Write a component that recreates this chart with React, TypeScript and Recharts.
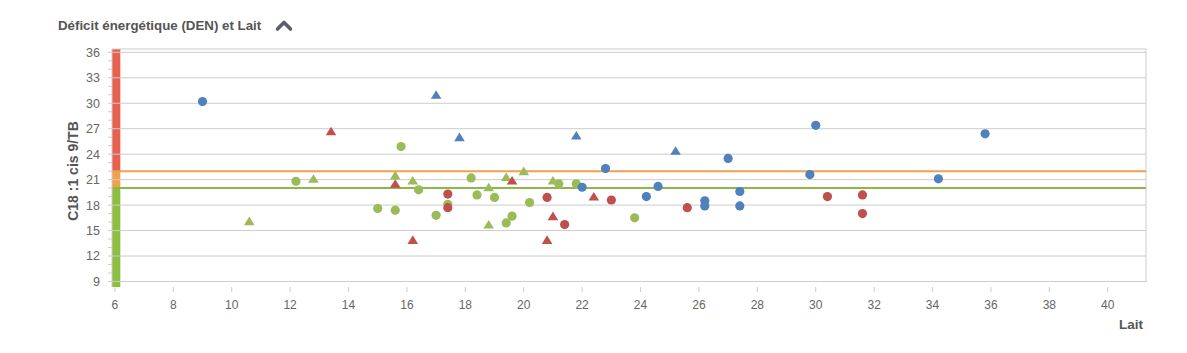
import { ScatterChart, Scatter, XAxis, YAxis, ReferenceLine, ReferenceArea } from "recharts";

// lait (x) / C18:1 cis 9/TB (y)
const bleuRonds = [
  { lait: 9.0, c18: 30.2 },
  { lait: 22.0, c18: 20.1 },
  { lait: 22.8, c18: 22.3 },
  { lait: 24.2, c18: 19.0 },
  { lait: 24.6, c18: 20.2 },
  { lait: 26.2, c18: 18.5 },
  { lait: 26.2, c18: 17.9 },
  { lait: 27.0, c18: 23.5 },
  { lait: 27.4, c18: 19.6 },
  { lait: 27.4, c18: 17.9 },
  { lait: 29.8, c18: 21.6 },
  { lait: 30.0, c18: 27.4 },
  { lait: 34.2, c18: 21.1 },
  { lait: 35.8, c18: 26.4 },
];

const bleuTriangles = [
  { lait: 17.0, c18: 31.0 },
  { lait: 17.8, c18: 26.0 },
  { lait: 21.8, c18: 26.2 },
  { lait: 25.2, c18: 24.4 },
];

const rougeRonds = [
  { lait: 17.4, c18: 19.3 },
  { lait: 17.4, c18: 17.7 },
  { lait: 20.8, c18: 18.9 },
  { lait: 21.4, c18: 15.7 },
  { lait: 23.0, c18: 18.6 },
  { lait: 25.6, c18: 17.7 },
  { lait: 30.4, c18: 19.0 },
  { lait: 31.6, c18: 19.2 },
  { lait: 31.6, c18: 17.0 },
];

const rougeTriangles = [
  { lait: 13.4, c18: 26.7 },
  { lait: 15.6, c18: 20.5 },
  { lait: 16.2, c18: 13.9 },
  { lait: 19.6, c18: 20.9 },
  { lait: 20.8, c18: 13.9 },
  { lait: 21.0, c18: 16.7 },
  { lait: 22.4, c18: 19.0 },
];

const vertRonds = [
  { lait: 12.2, c18: 20.8 },
  { lait: 15.8, c18: 24.9 },
  { lait: 16.4, c18: 19.8 },
  { lait: 15.0, c18: 17.6 },
  { lait: 15.6, c18: 17.4 },
  { lait: 17.0, c18: 16.8 },
  { lait: 17.4, c18: 18.1 },
  { lait: 18.2, c18: 21.2 },
  { lait: 18.4, c18: 19.2 },
  { lait: 19.0, c18: 18.9 },
  { lait: 19.6, c18: 16.7 },
  { lait: 19.4, c18: 15.9 },
  { lait: 20.2, c18: 18.3 },
  { lait: 21.2, c18: 20.5 },
  { lait: 21.8, c18: 20.5 },
  { lait: 23.8, c18: 16.5 },
];

const vertTriangles = [
  { lait: 10.6, c18: 16.1 },
  { lait: 12.8, c18: 21.1 },
  { lait: 15.6, c18: 21.5 },
  { lait: 16.2, c18: 20.9 },
  { lait: 18.8, c18: 20.1 },
  { lait: 18.8, c18: 15.7 },
  { lait: 19.4, c18: 21.3 },
  { lait: 20.0, c18: 22.0 },
  { lait: 21.0, c18: 20.9 },
];

const xTicks = [6, 8, 10, 12, 14, 16, 18, 20, 22, 24, 26, 28, 30, 32, 34, 36, 38, 40];
const yTicks = [9, 10, 11, 12, 13, 14, 15, 16, 17, 18, 19, 20, 21, 22, 23, 24, 25, 26, 27, 28, 29, 30, 31, 32, 33, 34, 35, 36];
const yGrid = [9, 12, 15, 18, 21, 24, 27, 30, 33, 36];

// seuils DEN
const seuilBas = 20;
const seuilHaut = 22;

const X_MIN = 5.9;
const X_MAX = 41.31;
const Y_MIN = 8.35;
const Y_MAX = 36.39;
const BAND_X2 = 6.185;

const BLEU = "#4F81BD";
const ROUGE = "#C0504D";
const VERT = "#9BBB59";
const GRID = "#cccccc";
const FONT = "'Liberation Sans', Arial, sans-serif";

const Triangle = (props: any) => {
  const { cx, cy, fill } = props;
  if (cx == null || cy == null) return null;
  return (
    <polygon
      points={`${cx},${cy - 4.6} ${cx + 5.3},${cy + 4} ${cx - 5.3},${cy + 4}`}
      fill={fill}
    />
  );
};

const Rond = (props: any) => {
  const { cx, cy, fill } = props;
  if (cx == null || cy == null) return null;
  return <circle cx={cx} cy={cy} r={4.6} fill={fill} />;
};

export default function App() {
  return (
    <div style={{ position: "absolute", left: 0, top: 0, width: 1187, height: 353, background: "#fff" }}>
      <ScatterChart
        width={1187}
        height={353}
        margin={{ top: 49, right: 41, bottom: 0, left: 0 }}
      >
        <XAxis
          type="number"
          dataKey="lait"
          domain={[X_MIN, X_MAX]}
          ticks={xTicks}
          allowDataOverflow
          height={66}
          axisLine={false}
          tickLine={{ stroke: GRID }}
          tickSize={5}
          tickMargin={8}
          tick={{ fill: "#666", fontSize: 12, fontFamily: FONT }}
        />
        <YAxis
          type="number"
          dataKey="c18"
          domain={[Y_MIN, Y_MAX]}
          ticks={yTicks}
          interval={0}
          allowDataOverflow
          width={112}
          axisLine={{ stroke: GRID }}
          tickLine={{ stroke: GRID }}
          tickSize={4}
          tickMargin={8}
          tickFormatter={(v: number) => (v % 3 === 0 ? String(v) : "")}
          tick={{ fill: "#666", fontSize: 12.5, fontFamily: FONT }}
        />
        {yGrid.map((v) => (
          <ReferenceLine key={v} y={v} stroke={GRID} strokeWidth={1} />
        ))}
        <ReferenceLine y={Y_MAX} stroke={GRID} strokeWidth={1} />
        <ReferenceLine
          segment={[{ x: X_MAX, y: 8.9 }, { x: X_MAX, y: Y_MAX }]}
          stroke={GRID}
          strokeWidth={1}
        />
        <ReferenceLine y={seuilHaut} stroke="#F0A04F" strokeWidth={2} />
        <ReferenceLine y={seuilBas} stroke="#8CB84A" strokeWidth={2} />
        <ReferenceArea x1={X_MIN} x2={BAND_X2} y1={seuilHaut} y2={Y_MAX} fill="#EA604F" fillOpacity={1} />
        <ReferenceArea x1={X_MIN} x2={BAND_X2} y1={seuilBas} y2={seuilHaut} fill="#F3A04D" fillOpacity={1} />
        <ReferenceArea x1={X_MIN} x2={BAND_X2} y1={Y_MIN} y2={seuilBas} fill="#8CBF3E" fillOpacity={1} />
        <Scatter data={vertRonds} fill={VERT} shape={Rond} isAnimationActive={false} />
        <Scatter data={vertTriangles} fill={VERT} shape={Triangle} isAnimationActive={false} />
        <Scatter data={rougeRonds} fill={ROUGE} shape={Rond} isAnimationActive={false} />
        <Scatter data={rougeTriangles} fill={ROUGE} shape={Triangle} isAnimationActive={false} />
        <Scatter data={bleuRonds} fill={BLEU} shape={Rond} isAnimationActive={false} />
        <Scatter data={bleuTriangles} fill={BLEU} shape={Triangle} isAnimationActive={false} />
      </ScatterChart>
      <svg
        width={1187}
        height={353}
        style={{ position: "absolute", left: 0, top: 0, pointerEvents: "none" }}
      >
        <text x={58} y={29.5} fill="#555" fontSize={13.3} fontWeight="bold" fontFamily={FONT}>
          Déficit énergétique (DEN) et Lait
        </text>
        <polyline
          points="277.5,29 284,22.5 290.5,29"
          fill="none"
          stroke="#5b6068"
          strokeWidth={3.6}
          strokeLinecap="round"
          strokeLinejoin="round"
        />
        <text
          x={78}
          y={171}
          transform="rotate(-90 78 171)"
          textAnchor="middle"
          fill="#555"
          fontSize={14}
          fontWeight="bold"
          fontFamily={FONT}
        >
          C18 :1 cis 9/TB
        </text>
        <text x={1143} y={328.5} textAnchor="end" fill="#555" fontSize={13.5} fontWeight="bold" fontFamily={FONT}>
          Lait
        </text>
      </svg>
    </div>
  );
}
